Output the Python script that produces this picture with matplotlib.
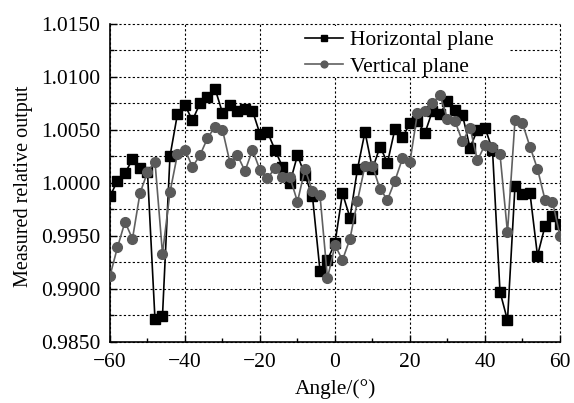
import matplotlib
matplotlib.use("Agg")
import matplotlib.pyplot as plt
from matplotlib.patches import Rectangle
from matplotlib.ticker import MultipleLocator, FormatStrFormatter

# angle in degrees, 2 degree steps
angles = list(range(-60, 61, 2))

horizontal = [
    0.9987, 1.0002, 1.0009, 1.0022, 1.0014, 1.0010, 0.9871, 0.9874, 1.0025, 1.0065,
    1.0073, 1.0059, 1.0075, 1.0081, 1.0089, 1.0066, 1.0073, 1.0068, 1.0070, 1.0068,
    1.0046, 1.0048, 1.0031, 1.0015, 1.0000, 1.0026, 1.0007, 0.9987, 0.9917, 0.9927,
    0.9943, 0.9990, 0.9967, 1.0013, 1.0048, 1.0013, 1.0034, 1.0019, 1.0051, 1.0043,
    1.0056, 1.0058, 1.0047, 1.0068, 1.0065, 1.0077, 1.0069, 1.0064, 1.0033, 1.0050,
    1.0052, 1.0031, 0.9897, 0.9870, 0.9997, 0.9989, 0.9990, 0.9931, 0.9959, 0.9969,
    0.9961,
]

vertical = [
    0.9912, 0.9939, 0.9963, 0.9947, 0.9990, 1.0010, 1.0020, 0.9933, 0.9991, 1.0027,
    1.0031, 1.0015, 1.0026, 1.0042, 1.0053, 1.0050, 1.0019, 1.0026, 1.0011, 1.0031,
    1.0012, 1.0004, 1.0014, 1.0005, 1.0005, 0.9982, 1.0013, 0.9992, 0.9988, 0.9910,
    0.9941, 0.9927, 0.9947, 0.9983, 1.0016, 1.0016, 0.9994, 0.9984, 1.0002, 1.0023,
    1.0020, 1.0066, 1.0068, 1.0075, 1.0083, 1.0060, 1.0058, 1.0039, 1.0052, 1.0021,
    1.0036, 1.0034, 1.0027, 0.9953, 1.0059, 1.0056, 1.0034, 1.0013, 0.9984, 0.9982,
    0.9950,
]

plt.rcParams["font.family"] = ["Liberation Serif", "DejaVu Serif"]
plt.rcParams["font.size"] = 15.5

fig = plt.figure(figsize=(5.74, 4.03), dpi=100)
ax = fig.add_axes([0.1916, 0.1526, 0.784, 0.788])

ax.plot(angles, horizontal, color="black", lw=1.2, marker="s", ms=6.5,
        mec="black", mfc="black", label="Horizontal plane", zorder=3)
ax.plot(angles, vertical, color="#606060", lw=1.2, marker="o", ms=7,
        mec="#5a5a5a", mfc="#5a5a5a", label="Vertical plane", zorder=4)

ax.set_xlim(-60, 60)
ax.set_ylim(0.985, 1.015)
ax.xaxis.set_major_locator(MultipleLocator(20))
ax.xaxis.set_minor_locator(MultipleLocator(10))
ax.yaxis.set_major_locator(MultipleLocator(0.005))
ax.yaxis.set_minor_locator(MultipleLocator(0.0025))
ax.yaxis.set_major_formatter(FormatStrFormatter("%.4f"))

ax.tick_params(which="both", direction="in", top=False, right=False, width=1)
ax.tick_params(which="major", length=5)
ax.tick_params(which="minor", length=3)
ax.tick_params(axis="y", pad=7)
ax.tick_params(axis="x", pad=8)

for side in ["top", "right"]:
    ax.spines[side].set_visible(False)
ax.spines["left"].set_linewidth(1.2)
ax.spines["bottom"].set_linewidth(1.2)

grid_style = dict(color="black", lw=0.8, ls=(0, (2, 2)))
ax.grid(which="both", axis="y", **grid_style)
ax.grid(which="major", axis="x", **grid_style)
for gl in ax.get_xgridlines() + ax.get_ygridlines():
    gl.set_clip_on(False)

ax.set_xlabel("Angle/(°)", fontsize=15.5)
ax.xaxis.set_label_coords(0.5, -0.118)
ax.set_ylabel("Measured relative output", fontsize=14.5)
ax.yaxis.set_label_coords(-0.171, 0.49)

# white box behind the legend hides the grid there
ax.add_patch(Rectangle((0.351, 0.836), 0.538, 0.159, transform=ax.transAxes,
                       facecolor="white", edgecolor="none", zorder=2.5))

leg = ax.legend(loc="upper left", bbox_to_anchor=(0.414, 1.007), borderaxespad=0,
                frameon=False, handlelength=1.77, handletextpad=0.33,
                labelspacing=0.3, borderpad=0.4, markerscale=0.7)
leg.set_zorder(5)

fig.savefig("out.png", dpi=100)
plt.close(fig)
